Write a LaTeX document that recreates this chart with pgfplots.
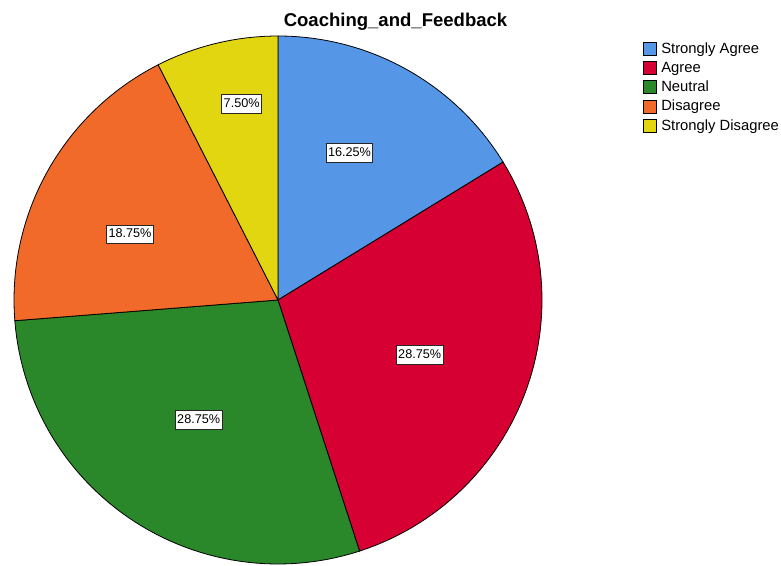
\documentclass[border=0pt]{standalone}
\usepackage{pgfplots}
\pgfplotsset{compat=1.18}
\usepackage{fontspec}
\setmainfont{Liberation Sans}
\definecolor{cBlue}{RGB}{85,150,230}
\definecolor{cRed}{RGB}{214,0,50}
\definecolor{cGreen}{RGB}{42,135,42}
\definecolor{cOrange}{RGB}{242,106,42}
\definecolor{cYellow}{RGB}{226,214,16}
\begin{document}
\begin{tikzpicture}
% percentages
\def\pA{16.25}\def\pB{28.75}\def\pC{28.75}\def\pD{18.75}\def\pE{7.5}
\pgfmathsetmacro{\aA}{90}
\pgfmathsetmacro{\aB}{\aA-3.6*\pA}
\pgfmathsetmacro{\aC}{\aB-3.6*\pB}
\pgfmathsetmacro{\aD}{\aC-3.6*\pC}
\pgfmathsetmacro{\aE}{\aD-3.6*\pD}
\pgfmathsetmacro{\aF}{\aE-3.6*\pE}
\def\R{264}
\begin{axis}[
  at={(0,0)}, anchor=south west,
  width=585.75pt, height=423.75pt, scale only axis,
  xmin=-278, xmax=503, ymin=-265, ymax=300,
  hide axis, clip=false,
  legend cell align=left,
  legend image code/.code={\draw[#1,draw=black,line width=0.5pt] (0pt,-4.8pt) rectangle (9.8pt,4.8pt);},
  legend style={at={(0.823,0.927)}, anchor=north west, draw=none, fill=none,
    font=\fontsize{11.1}{13}\selectfont, inner sep=0pt, row sep=3.4pt, column sep=2.6pt,
    nodes={inner sep=0.8pt}},
  every axis plot/.append style={draw=black, line width=0.6pt, data cs=polar, samples=60},
]
\addplot[fill=cBlue, domain=\aB:\aA] (x,\R) -- (axis cs:0,0) -- cycle;
\addlegendentry{Strongly Agree}
\addplot[fill=cRed, domain=\aC:\aB] (x,\R) -- (axis cs:0,0) -- cycle;
\addlegendentry{Agree}
\addplot[fill=cGreen, domain=\aD:\aC] (x,\R) -- (axis cs:0,0) -- cycle;
\addlegendentry{Neutral}
\addplot[fill=cOrange, domain=\aE:\aD] (x,\R) -- (axis cs:0,0) -- cycle;
\addlegendentry{Disagree}
\addplot[fill=cYellow, domain=\aF:\aE, samples=20] (x,\R) -- (axis cs:0,0) -- cycle;
\addlegendentry{Strongly Disagree}
\tikzset{lbl/.style={draw=black!85, fill=white, line width=0.6pt, inner xsep=1.4pt, inner ysep=2.6pt,
  text height=7pt, text depth=1.8pt, font=\fontsize{9.5}{11}\selectfont}}
\node[lbl] at (axis cs:71.5,147) {16.25\%};
\node[lbl] at (axis cs:141.7,-54.7) {28.75\%};
\node[lbl] at (axis cs:-79.3,-119.7) {28.75\%};
\node[lbl] at (axis cs:-148,65.7) {18.75\%};
\node[lbl] at (axis cs:-36.3,196) {7.50\%};
\node[font=\bfseries\fontsize{13.9}{16}\selectfont] at (axis cs:117.5,278) {Coaching\_and\_Feedback};
\end{axis}
\pgfresetboundingbox
\path (0,0) rectangle (585.75pt,423.75pt);
\end{tikzpicture}
\end{document}
